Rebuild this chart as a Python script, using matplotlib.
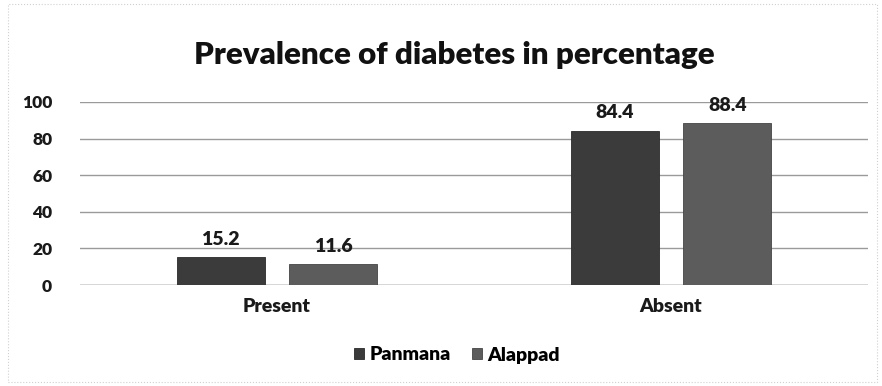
import numpy as np
import matplotlib.pyplot as plt

categories = ['Present', 'Absent']
panmana = [15.2, 84.4]
alappad = [11.6, 88.4]

plt.rcParams['font.family'] = ['Lato', 'DejaVu Sans']
plt.rcParams['font.weight'] = 'heavy'

fig = plt.figure(figsize=(8.82, 3.86), dpi=100)
ax = fig.add_axes([80 / 882, 1 - 285 / 386, 788 / 882, 183 / 386])

x = np.arange(len(categories))
w = 0.223
off = 0.143
b1 = ax.bar(x - off, panmana, w, color='#3b3b3b', edgecolor='#2a2a2a', linewidth=0.6, label='Panmana', zorder=3)
b2 = ax.bar(x + off, alappad, w, color='#5c5c5c', edgecolor='#444444', linewidth=0.6, label='Alappad', zorder=3)

for bars, vals in ((b1, panmana), (b2, alappad)):
    for r, v in zip(bars, vals):
        ax.text(r.get_x() + r.get_width() / 2, v + 5, f'{v}', ha='center', va='bottom',
                fontsize=14, fontweight='heavy', color='#1a1a1a')

ax.set_xlim(-0.5, 1.5)
ax.set_ylim(0, 100)
ax.set_yticks(range(0, 101, 20))
ax.yaxis.grid(True, color='#9a9a9a', linewidth=1.0, zorder=0)
ax.set_axisbelow(True)
ax.set_xticks(x)
ax.set_xticklabels(categories)
ax.tick_params(axis='y', length=0, labelsize=12.5, colors='#1a1a1a', pad=20)
ax.tick_params(axis='x', length=0, labelsize=14, colors='#1a1a1a', pad=9)
for s in ax.spines.values():
    s.set_visible(False)
ax.axhline(0, color='#8a8a8a', linewidth=1.0, zorder=2)

fig.text(454 / 882, 1 - 55 / 386, 'Prevalence of diabetes in percentage', ha='center', va='center',
         fontsize=22.5, fontweight='heavy', color='#111111')

fig.legend(loc='center', bbox_to_anchor=(457 / 882, 1 - 355 / 386), ncol=2, frameon=False,
           fontsize=14, handlelength=0.5, handleheight=0.5, handletextpad=0.3, columnspacing=1.1)

# light border around the chart area
fig.patches.append(plt.Rectangle((8 / 882, 0.01), 0.985, 0.98, transform=fig.transFigure,
                                 fill=False, edgecolor='#d0d0d0', linewidth=0.8, linestyle=':'))

fig.savefig('out.png', dpi=100)
